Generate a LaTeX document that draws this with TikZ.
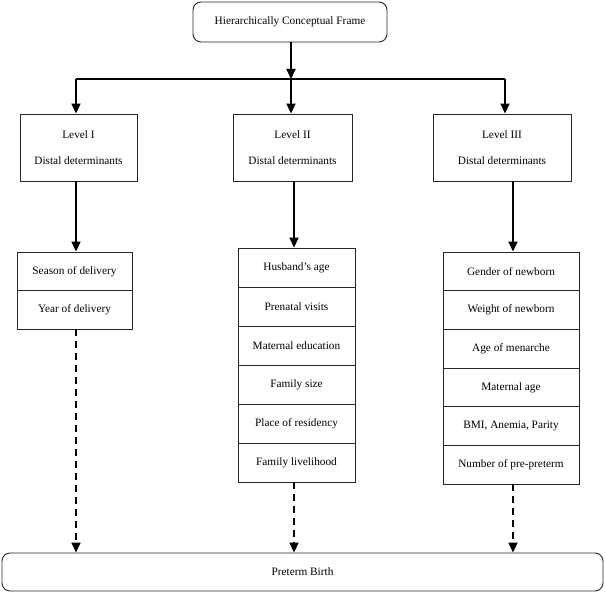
\documentclass[tikz,border=0pt]{standalone}
\usepackage{fontspec}
\setmainfont{Liberation Serif}
\usetikzlibrary{arrows.meta,calc}
\begin{document}
\begin{tikzpicture}[x=1pt,y=-1pt,
  every node/.style={font=\fontsize{11.3}{13.5}\selectfont},
  box/.style={draw=black!85,line width=0.9pt,inner sep=0pt,align=center,rectangle},
  rbox/.style={box,rounded corners=8pt},
  cell/.style={box},
  arr/.style={line width=1.8pt,-{Triangle[length=10pt,width=9pt]}},
  darr/.style={arr,dash pattern=on 7pt off 5pt},
  conn/.style={line width=1.6pt}
]
\useasboundingbox (0,0) rectangle (605,593);

% top and bottom
\node[rbox,minimum width=194pt,minimum height=40pt] (top) at (290,22) {Hierarchically Conceptual Frame};
\node[rbox,minimum width=601pt,minimum height=38pt] (pb) at (302.5,572) {Preterm Birth};

% level boxes
\node[box,minimum width=117pt,minimum height=67pt] (L1) at (78.5,147.5) {Level I\\[12.5pt]Distal determinants};
\node[box,minimum width=119pt,minimum height=67pt] (L2) at (292.5,147.5) {Level II\\[12.5pt]Distal determinants};
\node[box,minimum width=138pt,minimum height=67pt] (L3) at (502,147.5) {Level III\\[12.5pt]Distal determinants};

% list I
\node[cell,minimum width=115pt,minimum height=38.5pt] (A1) at (74.5,271.25) {Season of delivery};
\node[cell,minimum width=115pt,minimum height=38.5pt] (A2) at (74.5,309.75) {Year of delivery};

% list II
\foreach \t [count=\i] in {Husband’s age,Prenatal visits,Maternal education,Family size,Place of residency,Family livelihood}{
  \node[cell,minimum width=117pt,minimum height=39pt] (B\i) at (296.5,{248+19.5+39*(\i-1)}) {\t};
}

% list III
\foreach \t [count=\i] in {Gender of newborn,Weight of newborn,Age of menarche,Maternal age,{BMI, Anemia, Parity},Number of pre-preterm}{
  \node[cell,minimum width=136pt,minimum height=38.67pt] (C\i) at (511,{252+19.33+38.67*(\i-1)}) {\t};
}

% junction coordinates
\coordinate (jL) at (76,79);
\coordinate (jM) at (291,79);
\coordinate (jR) at (505,79);
\coordinate (a1) at (76,0);
\coordinate (a2) at (294,0);
\coordinate (a3) at (513,0);

% connectors
\draw[arr] (top.south -| jM) -- (jM);
\draw[conn] (jL) -- (jR);
\draw[arr] (jL) -- (jL |- L1.north);
\draw[arr] (jM) -- (jM |- L2.north);
\draw[arr] (jR) -- (jR |- L3.north);

\draw[arr] (L1.south -| a1) -- (a1 |- A1.north);
\draw[arr] (L2.south -| a2) -- (a2 |- B1.north);
\draw[arr] (L3.south -| a3) -- (a3 |- C1.north);

\draw[darr] (A2.south -| a1) -- (a1 |- pb.north);
\draw[darr] (B6.south -| a2) -- (a2 |- pb.north);
\draw[darr] (C6.south -| a3) -- (a3 |- pb.north);
\end{tikzpicture}
\end{document}
